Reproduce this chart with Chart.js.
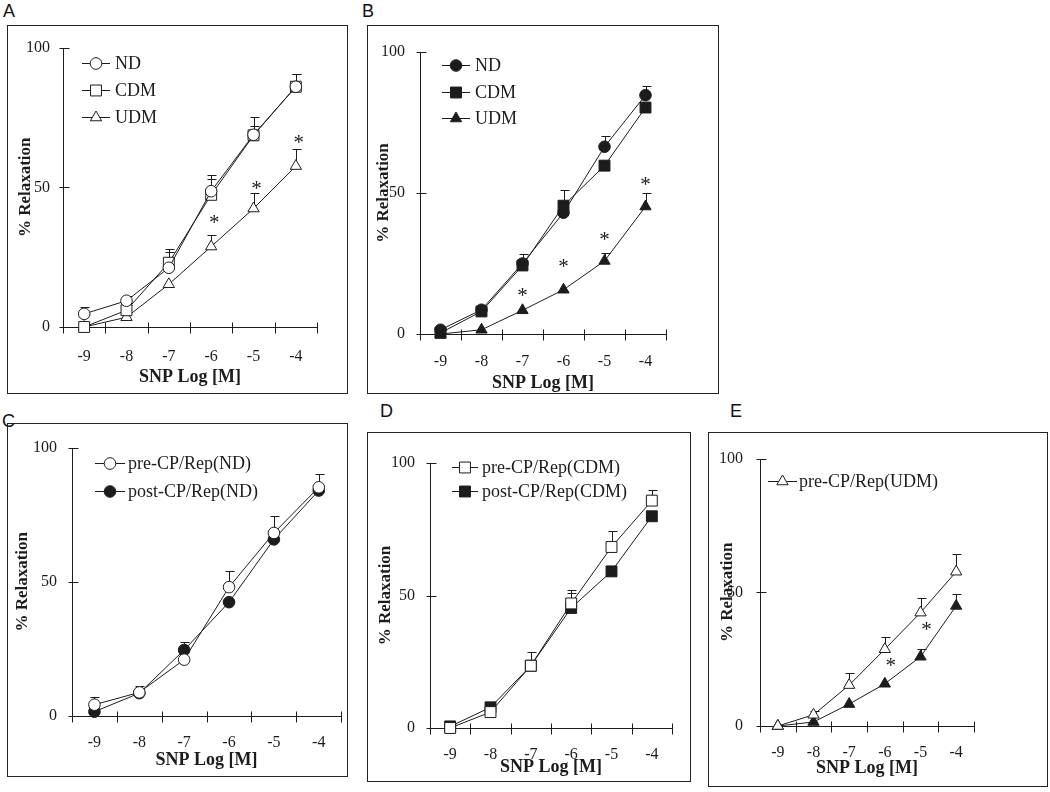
<!DOCTYPE html>
<html><head><meta charset="utf-8">
<script src="https://cdn.jsdelivr.net/npm/chart.js@4.4.1/dist/chart.umd.min.js"></script>
<style>
html,body{margin:0;padding:0;background:#fff;}
body{width:1050px;height:792px;position:relative;overflow:hidden;}
canvas{position:absolute;}
.lbl{position:absolute;font-family:"Liberation Sans",Arial,sans-serif;font-size:18px;line-height:18px;color:#111;}
</style></head><body>
<div class="lbl" style="left:3px;top:2px">A</div>
<div class="lbl" style="left:362px;top:2px">B</div>
<div class="lbl" style="left:2px;top:412px">C</div>
<div class="lbl" style="left:380px;top:402px">D</div>
<div class="lbl" style="left:730px;top:402px">E</div>
<canvas id="cA"></canvas>
<canvas id="cB"></canvas>
<canvas id="cC"></canvas>
<canvas id="cD"></canvas>
<canvas id="cE"></canvas>
<script>
// ---------- data ----------
const categories = ['-9', '-8', '-7', '-6', '-5', '-4'];
const yTickStep = 50;
const xTitle = 'SNP Log [M]';
const yTitle = '% Relaxation';

// Panel A
const A_ND      = [4.7, 9.4, 21.2, 48.6, 68.8, 86.0];
const A_ND_err  = [2.6, 1.6, 6.8, 5.9, 6.5, 4.6];
const A_CDM     = [0.0, 6.0, 23.0, 47.3, 68.6, 86.0];
const A_CDM_err = [0, 2.0, 4.0, 5.7, 3.4, 4.6];
const A_UDM     = [0.0, 3.5, 15.3, 28.8, 42.4, 57.6];
const A_UDM_err = [0, 0, 0, 4.1, 5.5, 6.2];
const A_stars   = [null, null, null, 38.7, 51.1, 67.6];

// Panel B
const B_ND      = [1.5, 8.6, 25.0, 43.0, 66.4, 84.7];
const B_ND_err  = [0, 0, 3.4, 0, 3.9, 3.2];
const B_CDM     = [0.4, 8.0, 24.3, 45.5, 59.7, 80.3];
const B_CDM_err = [0, 0, 0, 5.5, 0, 0];
const B_UDM     = [0.0, 1.5, 8.4, 15.7, 25.9, 45.2];
const B_UDM_err = [0, 0, 0, 0, 2.8, 4.8];
const B_stars   = [null, null, 14.9, 25.2, 34.8, 54.3];

// Panel C
const C_pre      = [4.2, 8.8, 21.0, 48.0, 68.2, 85.2];
const C_pre_err  = [2.8, 2.4, 0, 6.0, 6.3, 4.8];
const C_post     = [1.6, 8.5, 24.6, 42.4, 65.8, 84.0];
const C_post_err = [0, 1.5, 3.1, 0, 0, 0];

// Panel D
const D_pre      = [0.0, 6.0, 23.5, 47.0, 68.3, 85.8];
const D_pre_err  = [0, 0, 5.0, 5.0, 5.9, 3.9];
const D_post     = [0.6, 7.8, 23.5, 45.3, 59.1, 79.9];
const D_post_err = [0, 0, 0, 5.7, 0, 0];

// Panel E
const E_pre      = [0.0, 4.2, 15.3, 28.7, 42.4, 57.7];
const E_pre_err  = [0, 1.3, 4.5, 4.6, 5.5, 6.5];
const E_post     = [0.0, 1.5, 8.2, 15.8, 25.9, 44.9];
const E_post_err = [0, 0, 0, 0, 2.8, 4.6];
const E_stars    = [null, null, null, 24.2, 37.7, null];

// ---------- style ----------
const INK = '#1c1c1c';
const SERIF = '"Liberation Serif","Times New Roman",serif';

function series(label, data, err, style, filled, extra) {
  const r = style === 'circle' ? 5.8 : (style === 'rect' ? 7.7 : 6.5);
  return Object.assign({
    label, data, errUp: err,
    borderColor: INK, borderWidth: 1, tension: 0,
    pointStyle: style, pointRadius: r, pointHoverRadius: r,
    pointBorderColor: INK, pointBorderWidth: 1,
    pointBackgroundColor: filled ? INK : '#ffffff',
    clip: false
  }, extra || {});
}

// ---------- plugins ----------
const boxPlugin = {
  id: 'box',
  afterDraw(chart) {
    const {ctx, width, height} = chart;
    ctx.save(); ctx.strokeStyle = '#222'; ctx.lineWidth = 1;
    ctx.strokeRect(0.5, 0.5, width - 1, height - 1);
    ctx.restore();
  }
};
const axesPlugin = {
  id: 'crossAxes',
  beforeDatasetsDraw(chart) {
    const {ctx, chartArea: a, scales: {x, y}} = chart;
    ctx.save(); ctx.strokeStyle = INK; ctx.lineWidth = 1; ctx.beginPath();
    const L = Math.round(a.left) + 0.5, B = Math.round(a.bottom) + 0.5;
    ctx.moveTo(L, Math.round(a.top)); ctx.lineTo(L, B);
    ctx.moveTo(L, B); ctx.lineTo(Math.round(a.right) + 0.5, B);
    y.ticks.forEach(t => {
      const py = Math.round(y.getPixelForValue(t.value)) + 0.5;
      ctx.moveTo(L - 4, py); ctx.lineTo(L + 6, py);
    });
    const n = x.ticks.length;
    for (let i = 0; i <= n; i++) {
      const px = Math.round(x.getPixelForDecimal(i / n)) + 0.5;
      ctx.moveTo(px, B - 5); ctx.lineTo(px, B + 6);
    }
    ctx.stroke(); ctx.restore();
  }
};
const errPlugin = {
  id: 'errBars',
  beforeDatasetsDraw(chart) {
    const {ctx, scales: {y}} = chart;
    ctx.save(); ctx.strokeStyle = INK; ctx.lineWidth = 1; ctx.beginPath();
    chart.data.datasets.forEach((ds, di) => {
      if (!ds.errUp) return;
      const meta = chart.getDatasetMeta(di);
      meta.data.forEach((pt, i) => {
        const e = ds.errUp[i];
        if (!e) return;
        const px = Math.round(pt.x) + 0.5;
        const top = Math.round(y.getPixelForValue(ds.data[i] + e)) + 0.5;
        ctx.moveTo(px, pt.y); ctx.lineTo(px, top);
        ctx.moveTo(px - 4, top); ctx.lineTo(px + 5, top);
      });
    });
    ctx.stroke(); ctx.restore();
  }
};
function starsPlugin(levels, dx) {
  return {
    id: 'stars',
    afterDatasetsDraw(chart) {
      const {ctx, scales: {x, y}} = chart;
      ctx.save(); ctx.font = '21px ' + SERIF; ctx.fillStyle = INK;
      ctx.textAlign = 'center'; ctx.textBaseline = 'alphabetic';
      levels.forEach((v, i) => {
        if (v == null) return;
        ctx.fillText('*', x.getPixelForValue(i) + dx, y.getPixelForValue(v) + 10.5);
      });
      ctx.restore();
    }
  };
}
function legendPlugin(cfg) {
  return {
    id: 'panelLegend',
    afterDatasetsDraw(chart) {
      const {ctx, chartArea: a} = chart;
      ctx.save(); ctx.font = '18px ' + SERIF; ctx.textBaseline = 'middle'; ctx.textAlign = 'left';
      let row = 0;
      chart.data.datasets.forEach(ds => {
        if (ds.noLegend) return;
        const yy = Math.round(a.top + cfg.y + row * cfg.rowH) + 0.5;
        const x0 = a.left + cfg.x;
        ctx.strokeStyle = INK; ctx.lineWidth = 1;
        ctx.beginPath(); ctx.moveTo(x0, yy); ctx.lineTo(x0 + cfg.w, yy); ctx.stroke();
        ctx.fillStyle = ds.pointBackgroundColor;
        Chart.helpers.drawPoint(ctx, {pointStyle: ds.pointStyle, radius: ds.pointRadius, borderWidth: 1, rotation: 0}, x0 + cfg.w / 2, yy);
        ctx.fillStyle = INK;
        ctx.fillText(ds.label, x0 + cfg.w + cfg.gap, yy + 1);
        row++;
      });
      ctx.restore();
    }
  };
}

// ---------- builder ----------
function makeChart(id, G, datasets, extraPlugins) {
  const cv = document.getElementById(id);
  const W = G.box[2] - G.box[0], H = G.box[3] - G.box[1];
  cv.width = W; cv.height = H;
  cv.style.left = G.box[0] + 'px'; cv.style.top = G.box[1] + 'px';
  cv.style.width = W + 'px'; cv.style.height = H + 'px';
  const aL = G.area[0] - G.box[0], aR = G.area[1] - G.box[0];
  const aT = G.area[2] - G.box[1], aB = G.area[3] - G.box[1];
  const tickFont = {family: SERIF, size: 16};
  const yTitleFont = {family: SERIF, size: 17, weight: 'bold'};
  const xTitleFont = {family: SERIF, size: 18, weight: 'bold'};
  return new Chart(cv, {
    type: 'line',
    data: {labels: categories, datasets},
    options: {
      responsive: false, animation: false, devicePixelRatio: 1,
      layout: {padding: {left: 0, top: aT, right: W - aR, bottom: 0}},
      plugins: {legend: {display: false}, tooltip: {enabled: false}},
      scales: {
        x: {
          type: 'category', offset: true,
          grid: {display: false, drawTicks: false, offset: true},
          border: {display: false},
          ticks: {font: tickFont, color: INK, padding: G.xTickPad, maxRotation: 0, autoSkip: false},
          title: {display: true, text: xTitle, font: xTitleFont, color: INK, padding: {top: 0, bottom: G.xTitlePad}},
          afterFit(s) { s.height = H - aB; }
        },
        y: {
          min: 0, max: 100,
          grid: {display: false, drawTicks: false},
          border: {display: false},
          ticks: {stepSize: yTickStep, font: tickFont, color: INK, padding: G.yTickPad},
          title: {display: true, text: yTitle, font: yTitleFont, color: INK, padding: {top: G.yTitlePad, bottom: 0}},
          afterFit(s) { s.width = aL; }
        }
      }
    },
    plugins: [boxPlugin, axesPlugin, errPlugin].concat(extraPlugins)
  });
}

// ---------- panels ----------
makeChart('cA', {box: [7, 25, 348, 394], area: [63, 317, 43, 327], xTickPad: 20, yTickPad: 13, xTitlePad: 6, yTitlePad: 8}, [
  series('ND', A_ND, A_ND_err, 'circle', false),
  series('CDM', A_CDM, A_CDM_err, 'rect', false),
  series('UDM', A_UDM, A_UDM_err, 'triangle', false)
], [starsPlugin(A_stars, 3), legendPlugin({x: 19, y: 15, rowH: 27, w: 28, gap: 5})]);

makeChart('cB', {box: [367, 25, 719, 394], area: [420, 666, 52, 334], xTickPad: 18, yTickPad: 15, xTitlePad: 0, yTitlePad: 6}, [
  series('ND', B_ND, B_ND_err, 'circle', true),
  series('CDM', B_CDM, B_CDM_err, 'rect', true),
  series('UDM', B_UDM, B_UDM_err, 'triangle', true)
], [starsPlugin(B_stars, 0), legendPlugin({x: 22, y: 13, rowH: 26.5, w: 28, gap: 5})]);

makeChart('cC', {box: [7, 423, 348, 777], area: [72, 347, 438, 716], xTickPad: 17, yTickPad: 15, xTitlePad: 6, yTitlePad: 5}, [
  series('pre-CP/Rep(ND)', C_pre, C_pre_err, 'circle', false),
  series('post-CP/Rep(ND)', C_post, C_post_err, 'circle', true)
], [legendPlugin({x: 23, y: 15, rowH: 28, w: 30, gap: 3})]);

makeChart('cD', {box: [367, 432, 691, 782], area: [430, 672, 463, 728], xTickPad: 17, yTickPad: 15, xTitlePad: 4, yTitlePad: 8}, [
  series('pre-CP/Rep(CDM)', D_pre, D_pre_err, 'rect', false),
  series('post-CP/Rep(CDM)', D_post, D_post_err, 'rect', true)
], [legendPlugin({x: 22, y: 4, rowH: 24, w: 26, gap: 4})]);

makeChart('cE', {box: [708, 432, 1048, 787], area: [760, 974, 453, 726], xTickPad: 17, yTickPad: 17, xTitlePad: 8, yTitlePad: 9}, [
  series('pre-CP/Rep(UDM)', E_pre, E_pre_err, 'triangle', false),
  series('post-CP/Rep(UDM)', E_post, E_post_err, 'triangle', true, {noLegend: true})
], [starsPlugin(E_stars, 6), legendPlugin({x: 8, y: 22, rowH: 26, w: 29, gap: 2})]);
</script>
</body></html>
